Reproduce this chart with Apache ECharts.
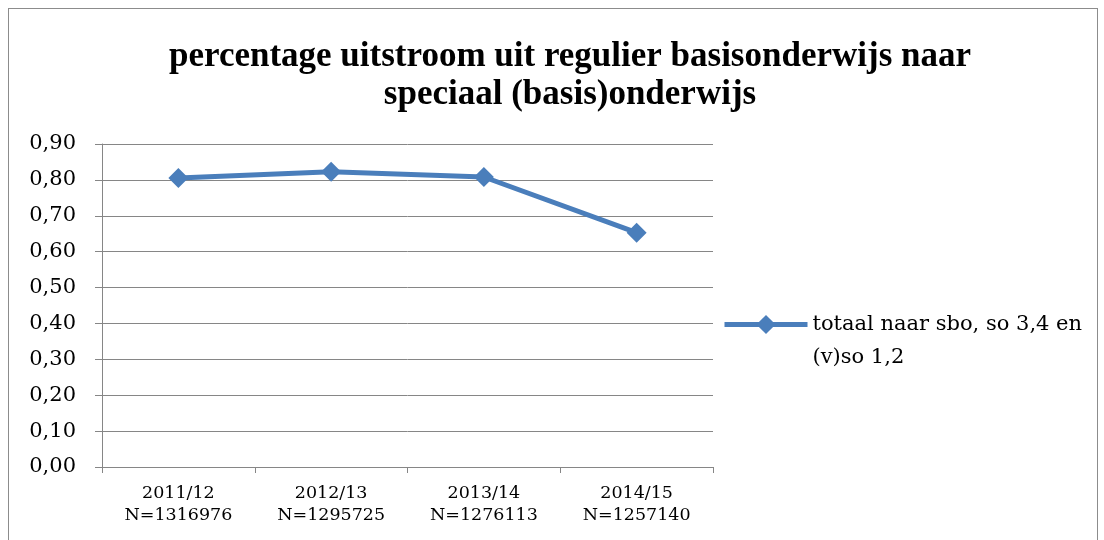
<!DOCTYPE html>
<html>
<head>
<meta charset="utf-8">
<script src="https://cdn.jsdelivr.net/npm/echarts@6/dist/echarts.min.js"></script>
<style>
  html, body { margin: 0; padding: 0; background: #fff; }
  #frame {
    position: absolute; left: 8px; top: 8px; width: 1090px; height: 560px;
    border: 1px solid #8c8c8c; box-sizing: border-box;
  }
  #chart { position: absolute; left: 0; top: 0; width: 1104px; height: 540px; }
</style>
</head>
<body>
<div id="frame"></div>
<div id="chart"></div>
<script>
// schooljaren en aantal leerlingen (N)
const years = ['2011/12', '2012/13', '2013/14', '2014/15'];
const counts = ['1316976', '1295725', '1276113', '1257140'];
// percentage uitstroom
const values = [0.805, 0.823, 0.808, 0.653];
const seriesName = 'totaal naar sbo, so 3,4 en\n(v)so 1,2';

const categories = years.map((y, i) => y + '\nN=' + counts[i]);
const serif = 'DejaVu Serif';

let chart = echarts.init(document.getElementById('chart'));
chart.setOption({
  animation: false,
  title: {
    text: 'percentage uitstroom uit regulier basisonderwijs naar\nspeciaal (basis)onderwijs',
    left: 565,
    top: 33,
    textAlign: 'center',
    textStyle: {
      fontFamily: 'Liberation Serif', fontWeight: 'bold', fontSize: 35,
      color: '#000', lineHeight: 38
    }
  },
  legend: {
    left: 722,
    top: 275,
    padding: 0,
    itemWidth: 83,
    itemHeight: 24,
    lineStyle: { width: 5 },
    // leading empty line keeps the icon level with the first text line
    formatter: name => '\n' + name,
    textStyle: { fontFamily: serif, fontSize: 21, color: '#000', lineHeight: 33 },
    data: [seriesName]
  },
  grid: { left: 102, right: 391, top: 144, bottom: 73 },
  xAxis: {
    type: 'category',
    data: categories,
    boundaryGap: true,
    axisLine: { lineStyle: { color: '#868686', width: 1 } },
    axisTick: { show: true, length: 6, lineStyle: { color: '#868686' } },
    axisLabel: { fontFamily: serif, fontSize: 17.5, color: '#000', lineHeight: 22, margin: 15 }
  },
  yAxis: {
    type: 'value',
    min: 0,
    max: 0.9,
    interval: 0.1,
    axisLine: { show: true, lineStyle: { color: '#868686' } },
    axisTick: { show: true, length: 7, lineStyle: { color: '#868686' } },
    axisLabel: {
      fontFamily: serif, fontSize: 21, color: '#000', margin: 26,
      formatter: v => v.toFixed(2).replace('.', ',')
    },
    splitLine: { lineStyle: { color: '#868686', width: 1 } }
  },
  series: [{
    name: seriesName,
    type: 'line',
    data: values,
    symbol: 'diamond',
    symbolSize: 20,
    lineStyle: { color: '#4a7ebb', width: 5 },
    itemStyle: { color: '#4a7ebb' }
  }]
});
</script>
</body>
</html>
